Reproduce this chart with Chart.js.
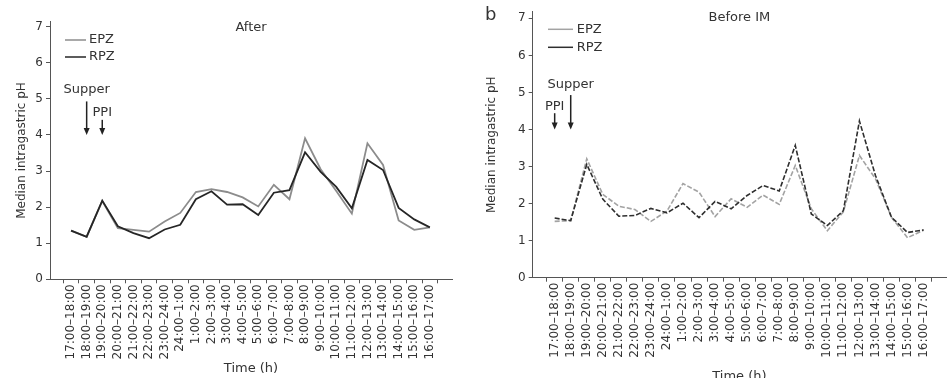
<!DOCTYPE html>
<html>
<head>
<meta charset="utf-8">
<script src="https://cdn.jsdelivr.net/npm/chart.js@4.4.0/dist/chart.umd.min.js"></script>
<style>
  html, body { margin: 0; padding: 0; overflow: hidden; background: #fff; width: 947px; height: 378px; }
  #wrapA { position: absolute; left: 0; top: 0; width: 470px; height: 378px; }
  #wrapB { position: absolute; left: 470px; top: 0; width: 477px; height: 390px; }
</style>
</head>
<body>
<div id="wrapA"><canvas id="chartA" width="470" height="378"></canvas></div>
<div id="wrapB"><canvas id="chartB" width="477" height="390"></canvas></div>
<script>
// time slots (x categories)
const timeLabels = [
  '17:00–18:00', '18:00–19:00', '19:00–20:00', '20:00–21:00', '21:00–22:00',
  '22:00–23:00', '23:00–24:00', '24:00–1:00', '1:00–2:00', '2:00–3:00',
  '3:00–4:00', '4:00–5:00', '5:00–6:00', '6:00–7:00', '7:00–8:00',
  '8:00–9:00', '9:00–10:00', '10:00–11:00', '11:00–12:00', '12:00–13:00',
  '13:00–14:00', '14:00–15:00', '15:00–16:00', '16:00–17:00'
];
const yTicks = [0, 1, 2, 3, 4, 5, 6, 7];

// median intragastric pH, panel "After"
const afterEPZ = [1.35, 1.18, 2.17, 1.42, 1.37, 1.32, 1.60, 1.84, 2.42, 2.50, 2.42, 2.27,
                  2.02, 2.62, 2.22, 3.91, 3.05, 2.45, 1.82, 3.77, 3.17, 1.63, 1.37, 1.44];
const afterRPZ = [1.35, 1.18, 2.18, 1.47, 1.28, 1.14, 1.38, 1.51, 2.22, 2.44, 2.07, 2.08,
                  1.78, 2.40, 2.47, 3.52, 2.98, 2.56, 1.97, 3.31, 3.03, 1.98, 1.66, 1.44];

// median intragastric pH, panel "Before IM"
const beforeEPZ = [1.52, 1.54, 3.21, 2.25, 1.93, 1.84, 1.52, 1.80, 2.54, 2.31, 1.65, 2.13,
                   1.90, 2.23, 1.98, 3.03, 1.86, 1.27, 1.78, 3.30, 2.67, 1.63, 1.08, 1.28];
const beforeRPZ = [1.61, 1.54, 3.06, 2.12, 1.66, 1.68, 1.87, 1.75, 2.01, 1.62, 2.06, 1.86,
                   2.22, 2.49, 2.34, 3.57, 1.72, 1.41, 1.81, 4.23, 2.76, 1.63, 1.22, 1.29];

// arrows: slot index, text level, arrow start, arrow tip (pH units)
const afterNotes = [
  { text: 'Supper', at: 1, textY: 5.25, from: 4.93, to: 4 },
  { text: 'PPI', at: 2, textY: 4.63, from: 4.42, to: 4 }
];
const beforeNotes = [
  { text: 'Supper', at: 1, textY: 5.22, from: 4.93, to: 4 },
  { text: 'PPI', at: 0, textY: 4.63, from: 4.44, to: 4 }
];

const FONT = "'DejaVu Sans', Verdana, sans-serif";
Chart.defaults.font.family = FONT;

const overlay = {
  id: 'overlay',
  afterDraw(chart, args, o) {
    const { ctx, chartArea: a, scales: { x, y } } = chart;
    ctx.save();
    ctx.fillStyle = '#333';
    ctx.textBaseline = 'middle';

    // panel title
    ctx.font = '13px ' + FONT;
    ctx.textAlign = 'center';
    ctx.fillText(o.title, (a.left + a.right) / 2, o.titleY);

    if (o.panel) {
      ctx.font = '18px ' + FONT;
      ctx.textAlign = 'left';
      ctx.fillText(o.panel, o.panelX, o.panelY);
    }

    // legend, solid sample lines
    ctx.font = '13px ' + FONT;
    ctx.textAlign = 'left';
    chart.data.datasets.forEach((ds, i) => {
      const ly = o.legend.y + i * o.legend.dy;
      ctx.strokeStyle = ds.borderColor;
      ctx.lineWidth = 1.5;
      ctx.setLineDash([]);
      ctx.beginPath();
      ctx.moveTo(o.legend.x0, ly);
      ctx.lineTo(o.legend.x1, ly);
      ctx.stroke();
      ctx.fillStyle = '#333';
      ctx.fillText(ds.label, o.legend.tx, ly);
    });

    // arrows
    o.notes.forEach(n => {
      const px = x.getPixelForValue(n.at);
      const tip = y.getPixelForValue(n.to);
      ctx.fillStyle = '#333';
      ctx.textAlign = 'center';
      ctx.fillText(n.text, px, y.getPixelForValue(n.textY));
      ctx.strokeStyle = '#222';
      ctx.lineWidth = 1.5;
      ctx.beginPath();
      ctx.moveTo(px, y.getPixelForValue(n.from));
      ctx.lineTo(px, tip - 5);
      ctx.stroke();
      ctx.fillStyle = '#222';
      ctx.beginPath();
      ctx.moveTo(px - 3, tip - 7);
      ctx.lineTo(px + 3, tip - 7);
      ctx.lineTo(px, tip);
      ctx.closePath();
      ctx.fill();
    });
    ctx.restore();
  }
};

function makeChart(id, cfg) {
  const boundaries = timeLabels.map((_, i) => i - 0.5).concat([timeLabels.length - 0.5]);
  const ds = (label, values, color, order) => ({
    label: label,
    data: values.map((v, i) => ({ x: i, y: v })),
    borderColor: color,
    borderWidth: cfg.lineWidth,
    borderDash: cfg.dash,
    pointRadius: 0,
    tension: 0,
    fill: false,
    order: order
  });

  return new Chart(document.getElementById(id), {
    type: 'line',
    data: {
      datasets: [
        ds('EPZ', cfg.epz, cfg.epzColor, 1),
        ds('RPZ', cfg.rpz, cfg.rpzColor, 0)
      ]
    },
    plugins: [overlay],
    options: {
      responsive: false,
      animation: false,
      layout: { padding: { left: 0, top: cfg.top, right: cfg.right, bottom: 0 } },
      plugins: {
        legend: { display: false },
        tooltip: { enabled: false },
        overlay: {
          title: cfg.title, titleY: cfg.titleY,
          panel: cfg.panel, panelX: cfg.panelX, panelY: cfg.panelY,
          legend: cfg.legend,
          notes: cfg.notes
        }
      },
      scales: {
        x: {
          type: 'linear',
          min: cfg.xMin,
          max: cfg.xMax,
          afterBuildTicks: s => { s.ticks = boundaries.map(v => ({ value: v })); },
          afterFit: s => { s.height = cfg.xHeight; },
          ticks: {
            autoSkip: false,
            minRotation: 90,
            maxRotation: 90,
            labelOffset: cfg.halfStep,
            padding: 1,
            color: '#333',
            font: { size: 12 },
            callback: (v, i) => timeLabels[i] || ''
          },
          grid: { drawOnChartArea: false, drawTicks: true, tickLength: 4, color: '#555' },
          border: { color: '#555', width: 1 },
          title: {
            display: true,
            text: 'Time (h)',
            color: '#333',
            font: { size: 13 },
            padding: { top: 0, bottom: cfg.xTitlePad }
          }
        },
        y: {
          min: 0,
          max: cfg.yMax,
          afterBuildTicks: s => { s.ticks = yTicks.map(v => ({ value: v })); },
          afterFit: s => { s.width = cfg.yWidth; },
          ticks: { color: '#333', font: { size: 12 }, padding: 3 },
          grid: { drawOnChartArea: false, drawTicks: true, tickLength: 4, color: '#555' },
          border: { color: '#555', width: 1 },
          title: {
            display: true,
            text: 'Median intragastric pH',
            color: '#333',
            font: { size: 12 },
            padding: { top: 14.5, bottom: 0 }
          }
        }
      }
    }
  });
}

makeChart('chartA', {
  epz: afterEPZ, rpz: afterRPZ,
  epzColor: '#8c8c8c', rpzColor: '#262626',
  lineWidth: 1.8, dash: [],
  title: 'After', titleY: 28,
  legend: { x0: 65, x1: 86, tx: 89, y: 40, dy: 17 },
  notes: afterNotes,
  top: 21.7, right: 18, yWidth: 50, xHeight: 98.7,
  xMin: -1.35, xMax: 24.42, yMax: 7.14,
  halfStep: 7.8, xTitlePad: 1.2
});

makeChart('chartB', {
  epz: beforeEPZ, rpz: beforeRPZ,
  epzColor: '#a3a3a3', rpzColor: '#2e2e2e',
  lineWidth: 1.6, dash: [5, 2],
  title: 'Before IM', titleY: 17.3,
  panel: 'b', panelX: 15, panelY: 15,
  legend: { x0: 78, x1: 103, tx: 106.7, y: 29.3, dy: 18 },
  notes: beforeNotes,
  top: 11.7, right: 0, yWidth: 62.7, xHeight: 112.3,
  xMin: -1.37, xMax: 24.41, yMax: 7.18,
  halfStep: 8.0, xTitlePad: 5.2
});
</script>
</body>
</html>
